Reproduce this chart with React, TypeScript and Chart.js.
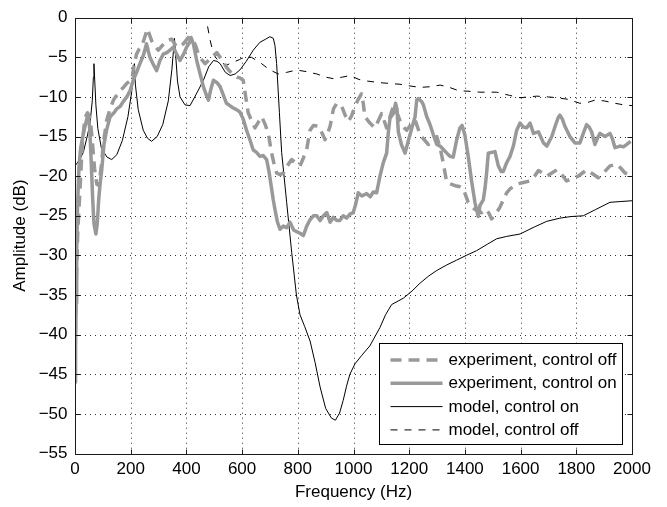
import React, { useEffect, useRef } from 'react';
import { Chart, registerables } from 'chart.js';

Chart.register(...registerables);

// ---- data (frequency in Hz, amplitude in dB) ----
const xTickValues = [0, 200, 400, 600, 800, 1000, 1200, 1400, 1600, 1800, 2000];
const yTickValues = [0, -5, -10, -15, -20, -25, -30, -35, -40, -45, -50, -55];
const xTitle = 'Frequency (Hz)';
const yTitle = 'Amplitude (dB)';
const seriesNames = [
  'experiment, control off',
  'experiment, control on',
  'model, control on',
  'model, control off',
];

const expOff: [number, number][] = [
  [0, -42], [5, -33], [10, -27], [18, -21.6], [27, -15.5], [36, -12.6], [45, -12.0], [55, -12.8],
  [62, -15.5], [70, -19], [78, -21], [86, -21.2], [95, -18.5], [102, -15.8], [114, -12.9], [126, -11.5],
  [138, -10.4], [150, -9.8], [162, -9.2], [174, -8.8], [186, -8.3], [197, -8.0], [204, -7.9], [212, -6.0],
  [221, -4.6], [230, -4.0], [239, -3.7], [250, -2.5], [260, -1.4], [268, -2.2], [275, -2.9], [287, -3.6],
  [299, -4.1], [314, -3.5], [329, -2.9], [347, -2.7], [356, -3.2], [365, -3.7], [377, -3.6], [389, -3.3],
  [398, -2.9], [407, -2.5], [416, -2.6], [425, -2.9], [434, -3.6], [443, -4.6], [455, -5.3], [467, -5.8],
  [479, -5.4], [491, -5.0], [500, -4.7], [509, -4.4], [521, -5.0], [533, -5.6], [545, -6.3], [557, -6.8],
  [569, -7.2], [581, -7.5], [592, -7.6], [604, -7.9], [613, -10.0], [622, -12.0], [634, -13.0], [646, -13.9],
  [658, -13.2], [670, -12.5], [682, -13.4], [694, -14.6], [706, -17.1], [715, -18.5], [724, -19.6], [736, -19.8],
  [748, -19.6], [760, -18.8], [778, -17.9], [793, -18.3], [808, -18.7], [820, -17.7], [832, -16.6], [844, -14.2],
  [856, -13.6], [874, -13.7], [886, -14.5], [898, -15.4], [907, -14.6], [916, -13.7], [928, -11.5], [940, -10.8],
  [958, -11.2], [970, -12.3], [981, -13.1], [993, -12.4], [1005, -11.2], [1017, -10.3], [1029, -9.6], [1035, -10.8],
  [1041, -12.5], [1059, -13.3], [1077, -13.9], [1089, -13.0], [1101, -12.1], [1110, -13.0], [1119, -13.9], [1131, -12.5],
  [1143, -11.2], [1155, -11.9], [1167, -13.0], [1179, -13.8], [1191, -14.2], [1206, -13.5], [1221, -12.9], [1230, -13.8],
  [1239, -14.8], [1254, -15.4], [1269, -16.0], [1284, -15.5], [1299, -15.0], [1311, -16.4], [1322, -18.3], [1335, -20.8],
  [1350, -21.0], [1365, -21.2], [1380, -21.3], [1394, -21.6], [1412, -23.3], [1424, -23.8], [1436, -24.2], [1448, -24.4],
  [1460, -24.6], [1478, -24.2], [1488, -24.8], [1496, -25.4], [1510, -24.8], [1526, -23.9], [1538, -23.0], [1550, -22.1],
  [1562, -21.6], [1586, -21.0], [1610, -20.8], [1634, -20.6], [1650, -20.0], [1664, -19.3], [1680, -19.6], [1694, -20.0],
  [1712, -19.6], [1730, -19.2], [1748, -19.8], [1765, -20.6], [1785, -20.3], [1807, -20.0], [1822, -19.6], [1837, -19.2],
  [1858, -19.7], [1879, -20.2], [1900, -19.5], [1921, -18.7], [1945, -18.5], [1960, -19.0], [1975, -19.6], [1993, -19.8],
];

const expOn: [number, number][] = [
  [0, -46], [2, -42], [4, -36], [6, -29.6], [9, -24], [14, -19], [20, -16.5], [28, -15],
  [36, -13.7], [44, -12.6], [48, -12.5], [53, -14], [58, -18], [63, -22.5], [68, -26], [75, -27.3],
  [80, -26], [85, -23], [90, -21], [96, -19.2], [104, -16], [114, -14.1], [126, -12.5], [140, -12],
  [150, -11.5], [162, -11.2], [175, -10.5], [186, -10], [198, -9.2], [209, -7.9], [220, -7], [233, -5.8],
  [245, -4.8], [257, -3.3], [263, -4.2], [269, -5.0], [280, -5.8], [293, -6.7], [305, -5.4], [317, -4.6],
  [330, -4.4], [341, -4.1], [353, -3.7], [365, -4.6], [377, -5.4], [390, -4.6], [401, -3.7], [410, -3.2],
  [417, -2.5], [425, -3.3], [437, -5.4], [450, -7.2], [461, -8.7], [470, -9.6], [479, -10.4], [488, -9.0],
  [497, -7.9], [510, -8.2], [521, -8.7], [533, -9.8], [544, -10.8], [556, -11.1], [568, -11.4], [580, -11.6],
  [592, -11.9], [604, -12.8], [616, -14.2], [628, -15.4], [640, -16.7], [652, -17.0], [664, -17.5], [676, -17.4],
  [688, -17.9], [697, -19.5], [706, -21.6], [712, -23.0], [718, -24.2], [727, -25.8], [736, -26.7], [748, -26.3],
  [760, -26.5], [772, -25.8], [785, -26.8], [796, -27.0], [808, -27.2], [820, -27.5], [832, -26.3], [844, -25.5],
  [856, -25.0], [868, -25.0], [880, -25.6], [892, -25.0], [904, -24.6], [916, -25.8], [928, -25.2], [940, -25.6],
  [951, -25.6], [963, -25.0], [975, -25.3], [987, -24.8], [999, -24.6], [1008, -23.5], [1017, -22.1], [1030, -22.5],
  [1047, -22.2], [1060, -22.6], [1071, -22.0], [1083, -22.1], [1095, -20.0], [1107, -18.3], [1119, -17.1], [1125, -14.5],
  [1131, -12.7], [1143, -12.1], [1151, -10.8], [1156, -11.5], [1161, -14.4], [1172, -16.0], [1185, -17.1], [1197, -15.5],
  [1209, -14.0], [1221, -12.5], [1227, -10.4], [1233, -10.2], [1245, -10.6], [1251, -11.0], [1263, -12.5], [1275, -13.5],
  [1287, -14.8], [1299, -16.0], [1311, -16.2], [1322, -16.6], [1335, -17.1], [1347, -17.5], [1358, -17.6], [1370, -15.5],
  [1382, -13.9], [1390, -13.6], [1400, -14.8], [1412, -17.5], [1424, -20.6], [1436, -23.3], [1448, -25.1], [1454, -23.7],
  [1466, -23.0], [1472, -21.6], [1478, -19.6], [1484, -17.1], [1496, -17.0], [1508, -16.9], [1520, -18.7], [1530, -19.4],
  [1538, -19.4], [1550, -18.3], [1562, -17.5], [1574, -16.2], [1586, -14.2], [1598, -13.3], [1610, -13.8], [1622, -13.9],
  [1634, -13.3], [1646, -14.6], [1664, -14.4], [1682, -15.8], [1694, -16.2], [1712, -15.0], [1724, -13.7], [1735, -12.6],
  [1741, -12.3], [1750, -12.8], [1759, -13.7], [1777, -15.0], [1795, -15.8], [1813, -15.8], [1825, -14.6], [1837, -13.5],
  [1846, -13.8], [1855, -14.4], [1867, -16.0], [1876, -15.2], [1885, -14.6], [1903, -15.0], [1921, -14.6], [1930, -15.3],
  [1939, -16.4], [1957, -16.2], [1969, -16.3], [1981, -16.0], [1995, -15.6],
];

const modelOn: [number, number][] = [
  [0, -18.7], [15, -18.0], [30, -17.0], [45, -14.8], [54, -13.3], [62, -10.5], [66, -7.5], [68, -5.8],
  [71, -8], [75, -11], [82, -14], [95, -16.5], [115, -17.6], [132, -17.9], [150, -17.3], [170, -15.5],
  [190, -12.5], [203, -9.5], [210, -7.2], [213, -5.8], [217, -8.5], [227, -11.6], [245, -14.2], [260, -15.2],
  [275, -15.6], [295, -15], [315, -13.5], [335, -10.5], [348, -6.5], [355, -3.5], [357, -2.6], [361, -4.5],
  [368, -8], [377, -10], [395, -11], [413, -11.1], [430, -10], [445, -9], [461, -7.9], [480, -6.2],
  [497, -5.4], [510, -5.5], [521, -5.8], [540, -6.9], [557, -7.3], [575, -7.1], [592, -6.6], [615, -5.5],
  [640, -4.1], [664, -3.1], [685, -2.7], [700, -2.4], [712, -2.6], [718, -3.5], [724, -5.8], [734, -12],
  [742, -17], [760, -23.3], [778, -29.6], [795, -35], [808, -37.5], [825, -39], [844, -40.8], [862, -43.5],
  [880, -46.6], [900, -49.3], [920, -50.5], [935, -50.8], [950, -49.9], [963, -48.3], [975, -46.5], [987, -45],
  [1005, -43.7], [1030, -42.6], [1059, -41.4], [1095, -39.1], [1115, -37.5], [1137, -36.2], [1179, -35.4], [1210, -34.5],
  [1239, -33.5], [1270, -32.6], [1299, -31.9], [1335, -31.2], [1370, -30.6], [1405, -30], [1442, -29.4], [1480, -28.6],
  [1514, -27.9], [1550, -27.6], [1598, -27.3], [1650, -26.4], [1694, -25.7], [1741, -25.3], [1780, -25.1], [1825, -25.0],
  [1870, -24.2], [1921, -23.3], [1960, -23.2], [2000, -23.1],
];

const modelOff: [number, number][] = [
  [476, -1.1], [485, -2.8], [497, -4.6], [509, -5.2], [521, -5.6], [544, -6.0], [568, -5.6], [590, -5.3],
  [604, -5.0], [634, -5.0], [670, -5.8], [700, -6.6], [730, -7.1], [760, -6.9], [796, -6.6], [830, -6.8],
  [868, -7.1], [900, -7.5], [928, -7.7], [960, -7.5], [987, -7.3], [1020, -7.8], [1050, -8.0], [1095, -8.2],
  [1130, -8.3], [1167, -8.4], [1200, -8.6], [1239, -8.8], [1280, -8.7], [1311, -8.5], [1345, -8.8], [1376, -9.2],
  [1420, -9.3], [1454, -9.4], [1514, -9.4], [1560, -9.8], [1598, -10.1], [1658, -9.9], [1700, -10.0], [1730, -10.1],
  [1770, -10.3], [1813, -10.8], [1840, -10.7], [1867, -10.4], [1900, -10.5], [1939, -10.8], [1970, -11.0], [2000, -11.1],
];

const GRAY = '#999999';
const FONT = "'Liberation Sans', Arial, Helvetica, sans-serif";

const seriesStyles = [
  { color: GRAY, width: 3.5, dash: [11, 7] },
  { color: GRAY, width: 3.5, dash: [] as number[] },
  { color: '#000000', width: 1, dash: [] as number[] },
  { color: '#000000', width: 1, dash: [7, 7] },
];

const toPoints = (arr: [number, number][]) => arr.map(([x, y]) => ({ x, y }));

const fmtY = (v: number) => (v < 0 ? '\u2212' + Math.abs(v) : String(v));

const frameGridPlugin = {
  id: 'frameGrid',
  beforeDatasetsDraw(chart: any) {
    const { ctx, chartArea: a, scales } = chart;
    ctx.save();
    ctx.strokeStyle = '#333333';
    ctx.lineWidth = 1;
    ctx.setLineDash([1, 4]);
    xTickValues.slice(1, -1).forEach((v) => {
      const x = Math.round(scales.x.getPixelForValue(v)) + 0.5;
      ctx.beginPath();
      ctx.moveTo(x, a.top);
      ctx.lineTo(x, a.bottom);
      ctx.stroke();
    });
    yTickValues.slice(1, -1).forEach((v) => {
      const y = Math.round(scales.y.getPixelForValue(v)) + 0.5;
      ctx.beginPath();
      ctx.moveTo(a.left, y);
      ctx.lineTo(a.right, y);
      ctx.stroke();
    });
    ctx.restore();
  },
  afterDatasetsDraw(chart: any) {
    const { ctx, chartArea: a, scales } = chart;
    const L = Math.round(a.left) + 0.5;
    const R = Math.round(a.right) + 0.5;
    const T = Math.round(a.top) + 0.5;
    const B = Math.round(a.bottom) + 0.5;
    ctx.save();
    ctx.strokeStyle = '#1a1a1a';
    ctx.lineWidth = 1;
    ctx.setLineDash([]);
    ctx.strokeRect(L, T, R - L, B - T);
    const tl = 5;
    xTickValues.forEach((v) => {
      const x = Math.round(scales.x.getPixelForValue(v)) + 0.5;
      ctx.beginPath();
      ctx.moveTo(x, B);
      ctx.lineTo(x, B - tl);
      ctx.moveTo(x, T);
      ctx.lineTo(x, T + tl);
      ctx.stroke();
    });
    yTickValues.forEach((v) => {
      const y = Math.round(scales.y.getPixelForValue(v)) + 0.5;
      ctx.beginPath();
      ctx.moveTo(L, y);
      ctx.lineTo(L + tl, y);
      ctx.moveTo(R, y);
      ctx.lineTo(R - tl, y);
      ctx.stroke();
    });
    ctx.restore();
  },
  afterDraw(chart: any) {
    const { ctx, chartArea: a } = chart;
    const w = 243;
    const h = 101;
    const x0 = Math.round(a.right) - 10 - w + 0.5;
    const y0 = Math.round(a.bottom) - 10 - h + 0.5;
    ctx.save();
    ctx.fillStyle = '#ffffff';
    ctx.fillRect(x0, y0, w, h);
    ctx.strokeStyle = '#000000';
    ctx.lineWidth = 1;
    ctx.setLineDash([]);
    ctx.strokeRect(x0, y0, w, h);
    ctx.font = `17px ${FONT}`;
    ctx.textBaseline = 'middle';
    ctx.textAlign = 'left';
    seriesNames.forEach((name, i) => {
      const yc = y0 + 16.5 + 23.3 * i;
      const st = seriesStyles[i];
      ctx.strokeStyle = st.color;
      ctx.lineWidth = st.width;
      ctx.setLineDash(st.dash);
      ctx.beginPath();
      ctx.moveTo(x0 + 11, yc);
      ctx.lineTo(x0 + 63, yc);
      ctx.stroke();
      ctx.setLineDash([]);
      ctx.fillStyle = '#000000';
      ctx.fillText(name, x0 + 69, yc + 0.5);
    });
    ctx.restore();
  },
};

export default function App() {
  const canvasRef = useRef<HTMLCanvasElement | null>(null);

  useEffect(() => {
    const canvas = canvasRef.current;
    if (!canvas) return;
    const seriesData = [expOff, expOn, modelOn, modelOff];
    const chart = new Chart(canvas, {
      type: 'line',
      data: {
        datasets: seriesData.map((d, i) => ({
          label: seriesNames[i],
          data: toPoints(d),
          borderColor: seriesStyles[i].color,
          borderWidth: seriesStyles[i].width,
          borderDash: seriesStyles[i].dash,
          borderJoinStyle: 'round' as const,
          pointRadius: 0,
          fill: false,
          tension: 0,
        })),
      },
      options: {
        responsive: false,
        animation: false,
        events: [],
        layout: { padding: { top: 13.5, right: 35, bottom: 0, left: 0 } },
        plugins: { legend: { display: false }, tooltip: { enabled: false } },
        scales: {
          x: {
            type: 'linear',
            min: 0,
            max: 2000,
            afterBuildTicks: (s: any) => {
              s.ticks = xTickValues.map((v) => ({ value: v }));
            },
            afterFit: (s: any) => {
              s.height = 53.5;
            },
            grid: { display: false, drawTicks: false },
            border: { display: false },
            ticks: {
              autoSkip: false,
              maxRotation: 0,
              padding: 6,
              color: '#000',
              font: { family: FONT, size: 17 },
              callback: (v: any) => String(v),
            },
            title: {
              display: true,
              text: xTitle,
              color: '#000',
              font: { family: FONT, size: 17 },
              padding: { top: 0, bottom: 4 },
            },
          },
          y: {
            type: 'linear',
            min: -55,
            max: 0,
            afterBuildTicks: (s: any) => {
              s.ticks = yTickValues.map((v) => ({ value: v }));
            },
            afterFit: (s: any) => {
              s.width = 75;
            },
            grid: { display: false, drawTicks: false },
            border: { display: false },
            ticks: {
              autoSkip: false,
              padding: 7.5,
              color: '#000',
              font: { family: FONT, size: 17 },
              callback: (v: any) => fmtY(Number(v)),
            },
            title: {
              display: true,
              text: yTitle,
              color: '#000',
              font: { family: FONT, size: 17 },
              padding: { top: 10, bottom: 0 },
            },
          },
        },
      },
      plugins: [frameGridPlugin],
    });
    return () => chart.destroy();
  }, []);

  return (
    <div style={{ position: 'absolute', left: 0, top: 0, width: 667, height: 507, background: '#fff' }}>
      <canvas ref={canvasRef} width={667} height={507} style={{ width: 667, height: 507, display: 'block' }} />
    </div>
  );
}
